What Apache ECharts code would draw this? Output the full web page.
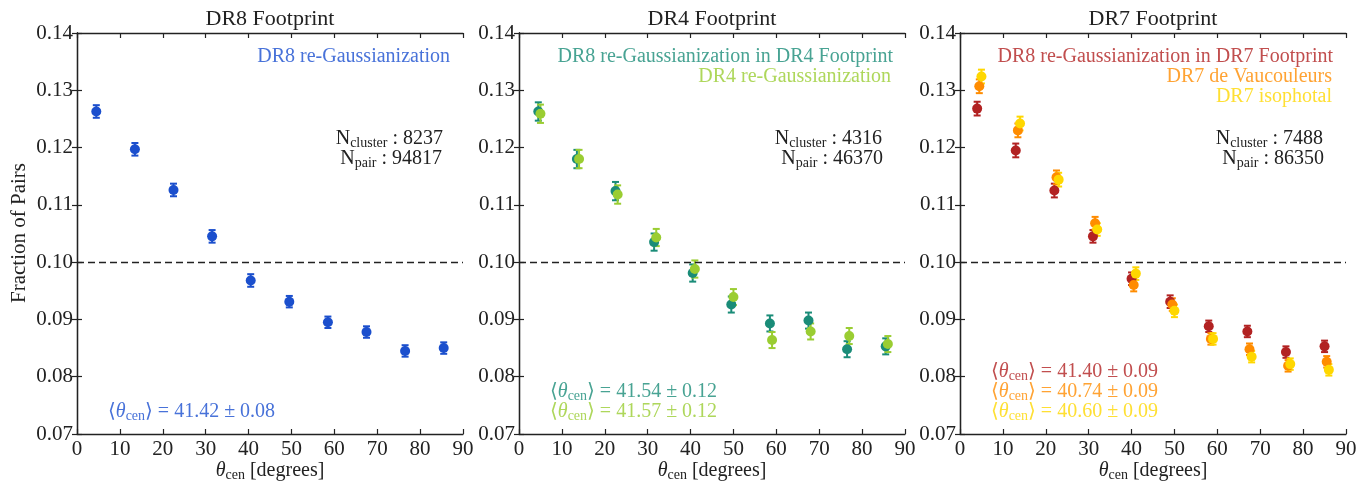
<!doctype html>
<html lang="en">
<head>
    <meta charset="utf-8">
    <title>Fraction of Pairs vs theta_cen</title>
    <script src="https://cdn.jsdelivr.net/npm/echarts@6.0.0/dist/echarts.min.js"></script>
    <style>
        html, body { margin: 0; padding: 0; background: #fff; }
    </style>
</head>
<body>
    <div id="main" style="width: 1370px;height:484px;"></div>
    <script type="text/javascript">

    // bin centres in degrees, with the small shifts used to separate the samples
    var binCenters = [4.5, 13.5, 22.5, 31.5, 40.5, 49.5, 58.5, 67.5, 76.5, 85.5];
    var xTicks = [0, 10, 20, 30, 40, 50, 60, 70, 80, 90];
    var yTicks = [0.07, 0.08, 0.09, 0.10, 0.11, 0.12, 0.13, 0.14];

    // DR8 footprint
    var dr8Frac = [0.1263, 0.1197, 0.1126, 0.1045, 0.0968, 0.0931, 0.0895, 0.0878, 0.0845, 0.0850];
    var dr8Err  = [0.0011, 0.0011, 0.0011, 0.0011, 0.0011, 0.0010, 0.0010, 0.0010, 0.0010, 0.0010];

    // DR4 footprint
    var dr8inDr4Frac = [0.1263, 0.1180, 0.1124, 0.1035, 0.0981, 0.0926, 0.0893, 0.0898, 0.0848, 0.0853];
    var dr8inDr4Err  = [0.0016, 0.0016, 0.0016, 0.0015, 0.0015, 0.0014, 0.0014, 0.0014, 0.0014, 0.0014];
    var dr4Frac = [0.1259, 0.1180, 0.1118, 0.1043, 0.0988, 0.0939, 0.0864, 0.0879, 0.0871, 0.0857];
    var dr4Err  = [0.0016, 0.0016, 0.0016, 0.0015, 0.0015, 0.0014, 0.0014, 0.0014, 0.0014, 0.0014];

    // DR7 footprint
    var dr8inDr7Frac = [0.1268, 0.1195, 0.1125, 0.1045, 0.0971, 0.0931, 0.0888, 0.0879, 0.0843, 0.0853];
    var dr8inDr7Err  = [0.0012, 0.0012, 0.0012, 0.0011, 0.0011, 0.0011, 0.0010, 0.0010, 0.0010, 0.0010];
    var dr7DevFrac = [0.1307, 0.1230, 0.1148, 0.1068, 0.0960, 0.0926, 0.0866, 0.0848, 0.0819, 0.0826];
    var dr7DevErr  = [0.0012, 0.0012, 0.0012, 0.0011, 0.0011, 0.0011, 0.0010, 0.0010, 0.0010, 0.0010];
    var dr7IsoFrac = [0.1324, 0.1242, 0.1144, 0.1057, 0.0980, 0.0915, 0.0866, 0.0835, 0.0822, 0.0812];
    var dr7IsoErr  = [0.0012, 0.0012, 0.0012, 0.0011, 0.0011, 0.0011, 0.0010, 0.0010, 0.0010, 0.0010];

    var panelTitles = ['DR8 Footprint', 'DR4 Footprint', 'DR7 Footprint'];
    var nCluster = ['8237', '4316', '7488'];
    var nPair = ['94817', '46370', '86350'];

    var FONT = '"Liberation Serif", "DejaVu Serif", serif';
    var INK = '#222';

    var C_BLUE = '#1b4fcd', C_TEAL = '#1a8c78', C_GREEN = '#9acd32';
    var C_RED = '#b22222', C_ORANGE = '#ff8c00', C_GOLD = '#ffd700';
    // label colours are the marker colours at 80% alpha
    var T_BLUE = '#4872d9', T_TEAL = '#48a393', T_GREEN = '#aed75b';
    var T_RED = '#c14e4e', T_ORANGE = '#ffa333', T_GOLD = '#ffdf33';

    var gridLefts = [77, 519, 960];
    var gridW = 386, gridTop = 33, gridH = 401;

    function shift(arr, d) {
        return arr.map(function (v) { return v + d; });
    }

    function errorBars(xs, ys, errs, color, idx) {
        return {
            type: 'custom',
            xAxisIndex: idx * 2,
            yAxisIndex: idx * 2,
            silent: true,
            data: xs.map(function (x, i) { return [x, ys[i] - errs[i], ys[i] + errs[i]]; }),
            encode: { x: 0, y: [1, 2] },
            renderItem: function (params, api) {
                var lo = api.coord([api.value(0), api.value(1)]);
                var hi = api.coord([api.value(0), api.value(2)]);
                var cap = 3.5;
                var st = { stroke: color, lineWidth: 2 };
                return {
                    type: 'group',
                    children: [
                        { type: 'line', shape: { x1: lo[0], y1: lo[1], x2: hi[0], y2: hi[1] }, style: st },
                        { type: 'line', shape: { x1: lo[0] - cap, y1: lo[1], x2: lo[0] + cap, y2: lo[1] }, style: st },
                        { type: 'line', shape: { x1: hi[0] - cap, y1: hi[1], x2: hi[0] + cap, y2: hi[1] }, style: st }
                    ]
                };
            }
        };
    }

    function dots(xs, ys, color, idx, withLine) {
        var s = {
            type: 'scatter',
            xAxisIndex: idx * 2,
            yAxisIndex: idx * 2,
            symbol: 'circle',
            symbolSize: 10,
            silent: true,
            itemStyle: { color: color, opacity: 1 },
            data: xs.map(function (x, i) { return [x, ys[i]]; })
        };
        if (withLine) {
            s.markLine = {
                silent: true,
                symbol: 'none',
                label: { show: false },
                lineStyle: { color: INK, width: 1.3, type: [7, 4] },
                data: [{ yAxis: 0.1 }]
            };
        }
        return s;
    }

    var grids = [], xAxes = [], yAxes = [];
    gridLefts.forEach(function (left, i) {
        grids.push({ left: left, top: gridTop, width: gridW, height: gridH, containLabel: false, outerBoundsMode: 'none' });
        var axLine = { show: true, lineStyle: { color: INK, width: 1.3 } };
        var axTick = { show: true, inside: true, length: 5, lineStyle: { color: INK, width: 1.2 } };
        xAxes.push({
            gridIndex: i, type: 'value', min: xTicks[0], max: xTicks[xTicks.length - 1], interval: 10,
            position: 'bottom', axisLine: axLine, axisTick: axTick, splitLine: { show: false },
            axisLabel: { color: INK, fontFamily: FONT, fontSize: 21, margin: 5 }
        });
        xAxes.push({
            gridIndex: i, type: 'value', min: xTicks[0], max: xTicks[xTicks.length - 1], interval: 10,
            position: 'top', axisLine: axLine, axisTick: axTick, splitLine: { show: false },
            axisLabel: { show: false }
        });
        yAxes.push({
            gridIndex: i, type: 'value', min: yTicks[0], max: yTicks[yTicks.length - 1], interval: 0.01,
            position: 'left', axisLine: axLine, axisTick: axTick, splitLine: { show: false },
            axisLabel: { color: INK, fontFamily: FONT, fontSize: 21, margin: 4,
                formatter: function (v) { return v.toFixed(2); } }
        });
        yAxes.push({
            gridIndex: i, type: 'value', min: yTicks[0], max: yTicks[yTicks.length - 1], interval: 0.01,
            position: 'right', axisLine: axLine, axisTick: axTick, splitLine: { show: false },
            axisLabel: { show: false }
        });
    });

    var series = [
        errorBars(binCenters, dr8Frac, dr8Err, C_BLUE, 0),
        dots(binCenters, dr8Frac, C_BLUE, 0, true),

        errorBars(binCenters, dr8inDr4Frac, dr8inDr4Err, C_TEAL, 1),
        dots(binCenters, dr8inDr4Frac, C_TEAL, 1, true),
        errorBars(shift(binCenters, 0.5), dr4Frac, dr4Err, C_GREEN, 1),
        dots(shift(binCenters, 0.5), dr4Frac, C_GREEN, 1, false),

        errorBars(shift(binCenters, -0.5), dr8inDr7Frac, dr8inDr7Err, C_RED, 2),
        dots(shift(binCenters, -0.5), dr8inDr7Frac, C_RED, 2, true),
        errorBars(binCenters, dr7DevFrac, dr7DevErr, C_ORANGE, 2),
        dots(binCenters, dr7DevFrac, C_ORANGE, 2, false),
        errorBars(shift(binCenters, 0.5), dr7IsoFrac, dr7IsoErr, C_GOLD, 2),
        dots(shift(binCenters, 0.5), dr7IsoFrac, C_GOLD, 2, false)
    ];

    // text helpers
    function txt(x, y, text, color, align, size) {
        return {
            type: 'text', x: x, y: y, silent: true, z: 10,
            style: { text: text, fill: color, font: (size || 20) + 'px ' + FONT, align: align || 'right', verticalAlign: 'middle' }
        };
    }
    function subTxt(x, y, main, sub, rest, color, align) {
        return {
            type: 'text', x: x, y: y, silent: true, z: 10,
            style: {
                text: '{n|' + main + '}{s|' + sub + '}{n|' + rest + '}',
                fill: color, align: align || 'right', verticalAlign: 'middle',
                rich: {
                    n: { fontFamily: FONT, fontSize: 20, fill: color },
                    s: { fontFamily: FONT, fontSize: 14, fill: color, padding: [9, 0, 0, 0] }
                }
            }
        };
    }
    function thetaTxt(x, y, rest, color, align, pre, post) {
        return {
            type: 'text', x: x, y: y, silent: true, z: 10,
            style: {
                text: '{n|' + (pre || '') + '}{t|\u03b8}{s|cen}{n|' + (post || '') + rest + '}',
                fill: color, align: align || 'left', verticalAlign: 'middle',
                rich: {
                    n: { fontFamily: FONT, fontSize: 20, fill: color },
                    t: { fontFamily: FONT, fontSize: 20, fontStyle: 'italic', fill: color },
                    s: { fontFamily: FONT, fontSize: 14, fill: color, padding: [9, 0, 0, 0] }
                }
            }
        };
    }

    var graphics = [];
    gridLefts.forEach(function (left, i) {
        var cx = left + gridW / 2;
        graphics.push(txt(cx, 19, panelTitles[i], INK, 'center', 22));
        graphics.push(thetaTxt(cx, 471, ' [degrees]', INK, 'center'));
    });
    graphics.push({
        type: 'text', x: 19, y: 233, rotation: Math.PI / 2, silent: true,
        style: { text: 'Fraction of Pairs', fill: INK, font: '21px ' + FONT, align: 'center', verticalAlign: 'middle' }
    });

    // DR8 panel
    graphics.push(txt(450, 57, 'DR8 re-Gaussianization', T_BLUE));
    graphics.push(subTxt(443, 139, 'N', 'cluster', ' : ' + nCluster[0], INK));
    graphics.push(subTxt(442, 159, 'N', 'pair', ' : ' + nPair[0], INK));
    graphics.push(thetaTxt(108, 412, ' = 41.42 \u00b1 0.08', T_BLUE, 'left', '\u27e8', '\u27e9'));

    // DR4 panel
    graphics.push(txt(893, 57, 'DR8 re-Gaussianization in DR4 Footprint', T_TEAL));
    graphics.push(txt(891, 77, 'DR4 re-Gaussianization', T_GREEN));
    graphics.push(subTxt(882, 139, 'N', 'cluster', ' : ' + nCluster[1], INK));
    graphics.push(subTxt(883, 159, 'N', 'pair', ' : ' + nPair[1], INK));
    graphics.push(thetaTxt(550, 392, ' = 41.54 \u00b1 0.12', T_TEAL, 'left', '\u27e8', '\u27e9'));
    graphics.push(thetaTxt(550, 412, ' = 41.57 \u00b1 0.12', T_GREEN, 'left', '\u27e8', '\u27e9'));

    // DR7 panel
    graphics.push(txt(1333, 57, 'DR8 re-Gaussianization in DR7 Footprint', T_RED));
    graphics.push(txt(1332, 77, 'DR7 de Vaucouleurs', T_ORANGE));
    graphics.push(txt(1332, 97, 'DR7 isophotal', T_GOLD));
    graphics.push(subTxt(1323, 139, 'N', 'cluster', ' : ' + nCluster[2], INK));
    graphics.push(subTxt(1324, 159, 'N', 'pair', ' : ' + nPair[2], INK));
    graphics.push(thetaTxt(991, 372, ' = 41.40 \u00b1 0.09', T_RED, 'left', '\u27e8', '\u27e9'));
    graphics.push(thetaTxt(991, 392, ' = 40.74 \u00b1 0.09', T_ORANGE, 'left', '\u27e8', '\u27e9'));
    graphics.push(thetaTxt(991, 412, ' = 40.60 \u00b1 0.09', T_GOLD, 'left', '\u27e8', '\u27e9'));

    var myChart = echarts.init(document.getElementById('main'), null, { renderer: 'canvas' });
    myChart.setOption({
        animation: false,
        backgroundColor: '#fff',
        grid: grids,
        xAxis: xAxes,
        yAxis: yAxes,
        series: series,
        graphic: graphics
    });
    </script>
</body>
</html>
